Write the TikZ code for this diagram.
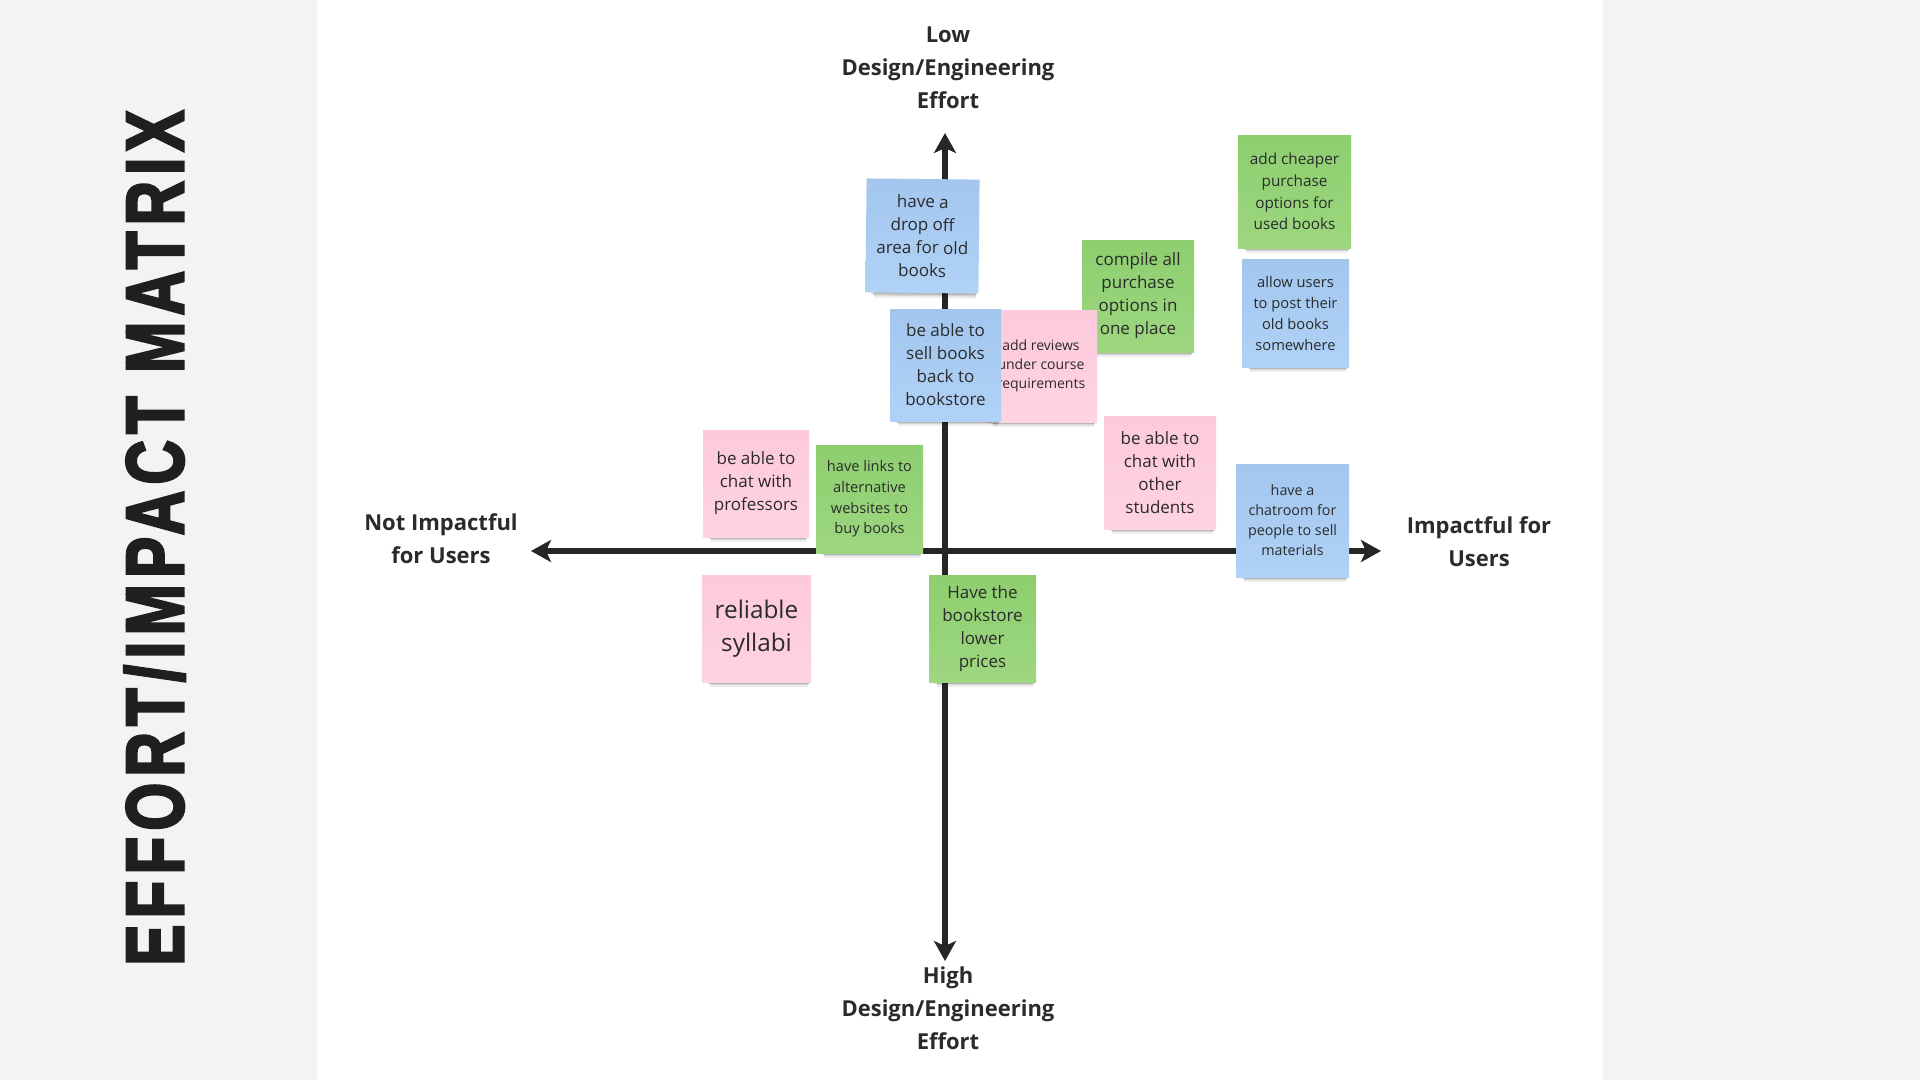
\documentclass[tikz,border=0pt]{standalone}
\usepackage{fontspec}
\usepackage{graphicx}
\setmainfont{Open Sans}
\newfontfamily\titlefont{Liberation Sans}[LetterSpace=10, BoldFeatures={FakeBold=3.5}]
\usetikzlibrary{arrows.meta,shadows}
\definecolor{bgray}{HTML}{F1F3F5}
\definecolor{axis}{HTML}{262626}
\definecolor{ink}{HTML}{2B2B2B}
\definecolor{blueT}{HTML}{A3C6EF}
\definecolor{blueB}{HTML}{B0D2F6}
\definecolor{pinkT}{HTML}{FDC9DD}
\definecolor{pinkB}{HTML}{FED3E3}
\definecolor{greenT}{HTML}{8ECE6F}
\definecolor{greenB}{HTML}{9DD780}
\tikzset{
  note/.style={inner sep=2pt, align=center, text=ink,
    general shadow={fill=black, opacity=.07, shadow yshift=-12pt, shadow xshift=3pt, shadow scale=.9},
    general shadow={fill=black, opacity=.10, shadow yshift=-9pt, shadow xshift=3pt, shadow scale=.91},
    general shadow={fill=black, opacity=.14, shadow yshift=-6pt, shadow xshift=2pt, shadow scale=.93}},
  bluenote/.style={note, top color=blueT, bottom color=blueB},
  pinknote/.style={note, top color=pinkT, bottom color=pinkB},
  greennote/.style={note, top color=greenT, bottom color=greenB},
  axlabel/.style={align=center, text=ink, font=\bfseries\fontsize{22}{33}\selectfont},
  axisline/.style={draw=axis, line width=6pt, -{Stealth[length=20pt,width=22pt,inset=5pt]}},
  fs/.style 2 args={font=\fontsize{#1}{#2}\selectfont}
}
\begin{document}
\begin{tikzpicture}[x=1pt,y=-1pt]
\useasboundingbox (0,0) rectangle (1920,1080);
\fill[bgray] (0,0) rectangle (1920,1080);
\fill[white] (317,0) rectangle (1603,1080);

\node[rotate=90, inner sep=0pt, text=black!88] (title) at (154.5,538)
  {\titlefont\bfseries\resizebox{855pt}{59pt}{EFFORT/IMPACT MATRIX}};

% axes
\coordinate (c) at (945,551);
\coordinate (top) at (945,133);
\coordinate (bot) at (945,961);
\coordinate (lft) at (531,551);
\coordinate (rgt) at (1381,551);
\draw[axisline] (c) -- (top);
\draw[axisline] (c) -- (bot);
\draw[axisline] (c) -- (lft);
\draw[axisline] (c) -- (rgt);
\fill[axis] (942,548) rectangle (948,554);

\node[axlabel] (low) at (948,68) {Low\\Design/Engineering\\Effort};
\node[axlabel] (high) at (948,1008) {High\\Design/Engineering\\Effort};
\node[axlabel] (notimp) at (441,539) {Not Impactful\\for Users};
\node[axlabel] (imp) at (1479,541.5) {Impactful for\\Users};

% notes
\node[bluenote, minimum width=113pt, minimum height=114pt, fs={17}{23}, rotate=-0.6] (n1) at (922.5,236)
  {have a\\drop off\\area for old\\books};
\node[greennote, minimum width=112pt, minimum height=112pt, fs={17}{23}] (n4) at (1138,296)
  {compile all\\purchase\\options in\\one place};
\node[pinknote, minimum width=112pt, minimum height=112pt, fs={14}{19}] (n3) at (1041,366)
  {add reviews\\under course\\requirements};
\node[bluenote, minimum width=111pt, minimum height=112pt, fs={17}{23}] (n2) at (945.5,365)
  {be able to\\sell books\\back to\\bookstore};
\node[greennote, minimum width=113pt, minimum height=113pt, fs={15.3}{21.7}] (n5) at (1294.5,191.5)
  {add cheaper\\purchase\\options for\\used books};
\node[bluenote, minimum width=107pt, minimum height=108pt, fs={14.7}{21}] (n6) at (1295.5,313)
  {allow users\\to post their\\old books\\somewhere};
\node[pinknote, minimum width=112pt, minimum height=113pt, fs={17}{23}] (n7) at (1160,472.5)
  {be able to\\chat with\\other\\students};
\node[bluenote, minimum width=113pt, minimum height=113pt, fs={14.3}{20}] (n8) at (1292.5,520.5)
  {have a\\chatroom for\\people to sell\\materials};
\node[pinknote, minimum width=106pt, minimum height=107pt, fs={17}{23}] (n9) at (756,483.5)
  {be able to\\chat with\\professors};
\node[greennote, minimum width=107pt, minimum height=108pt, fs={14.6}{20.7}] (n10) at (869.5,499)
  {have links to\\alternative\\websites to\\buy books};
\node[pinknote, minimum width=109pt, minimum height=107pt, fs={24.3}{33}] (n11) at (756.5,628.5)
  {reliable\\syllabi};
\node[greennote, minimum width=107pt, minimum height=107pt, fs={17}{23}] (n12) at (982.5,628.5)
  {Have the\\bookstore\\lower\\prices};
\end{tikzpicture}
\end{document}
